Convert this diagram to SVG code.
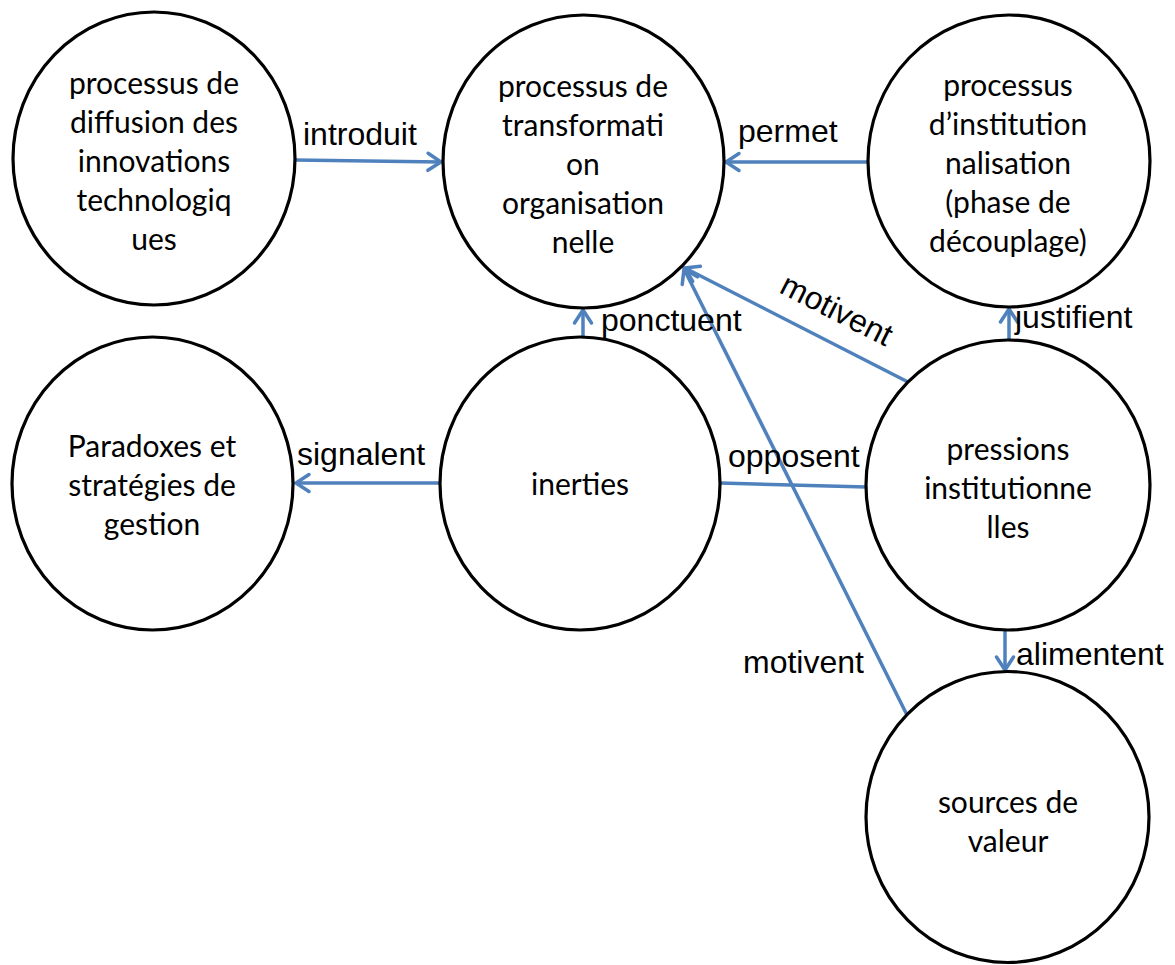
<svg xmlns="http://www.w3.org/2000/svg" width="1175" height="965" viewBox="0 0 1175 965">
<style>
.node ellipse{fill:#fff;stroke:#000;stroke-width:3.2}
.nt{font-family:Lato,"Open Sans","Liberation Sans",sans-serif;font-size:30px;fill:#000;text-anchor:middle}
.lbl{font-family:"Liberation Sans",Arial,sans-serif;font-size:32px;fill:#000}
.edge{stroke:#4F81BD;stroke-width:3.5;fill:none}
</style>
<defs>
<marker id="arr" markerUnits="userSpaceOnUse" markerWidth="24" markerHeight="24" viewBox="0 0 24 24" refX="18" refY="12" orient="auto">
<path d="M5,3.5 L18,12 L5,20.5" fill="none" stroke="#4F81BD" stroke-width="3.5" stroke-linecap="round" stroke-linejoin="miter"/>
</marker>
</defs>
<rect width="1175" height="965" fill="#fff"/>
<g id="connectors">
<line class="edge" x1="295" y1="160" x2="441" y2="162" marker-end="url(#arr)"/>
<line class="edge" x1="868" y1="162" x2="726" y2="162" marker-end="url(#arr)"/>
<line class="edge" x1="583" y1="337" x2="583" y2="310" marker-end="url(#arr)"/>
<line class="edge" x1="1009" y1="340" x2="1009" y2="309" marker-end="url(#arr)"/>
<line class="edge" x1="440" y1="483" x2="296" y2="483" marker-end="url(#arr)"/>
<line class="edge" x1="720" y1="483" x2="866" y2="487"/>
<line class="edge" x1="908" y1="382" x2="685" y2="268" marker-end="url(#arr)"/>
<line class="edge" x1="907" y1="715" x2="684" y2="269" marker-end="url(#arr)"/>
<line class="edge" x1="1005" y1="630" x2="1005" y2="670" marker-end="url(#arr)"/>
<text class="lbl" x="303" y="145">introduit</text>
<text class="lbl" x="738" y="142">permet</text>
<text class="lbl" x="601" y="331">ponctuent</text>
<text class="lbl" x="1015" y="328">justifient</text>
<text class="lbl" x="297" y="465">signalent</text>
<text class="lbl" x="728" y="467">opposent</text>
<text class="lbl" x="778" y="292" transform="rotate(27 778 292)">motivent</text>
<text class="lbl" x="743" y="673">motivent</text>
<text class="lbl" x="1016" y="665">alimentent</text>
</g>
<g id="n1" class="node">
<ellipse cx="154" cy="158.5" rx="141" ry="146.5"/>
<text class="nt" x="154" y="94">processus de</text>
<text class="nt" x="154" y="133">diffusion des</text>
<text class="nt" x="154" y="172">innovations</text>
<text class="nt" x="154" y="211">technologiq</text>
<text class="nt" x="154" y="250">ues</text>
</g>
<g id="n2" class="node">
<ellipse cx="583.5" cy="161.5" rx="140.5" ry="146.5"/>
<text class="nt" x="583" y="97">processus de</text>
<text class="nt" x="583" y="136">transformati</text>
<text class="nt" x="583" y="175">on</text>
<text class="nt" x="583" y="214">organisation</text>
<text class="nt" x="583" y="253">nelle</text>
</g>
<g id="n3" class="node">
<ellipse cx="1009" cy="161" rx="141" ry="146"/>
<text class="nt" x="1008" y="96">processus</text>
<text class="nt" x="1008" y="135">d’institution</text>
<text class="nt" x="1008" y="174">nalisation</text>
<text class="nt" x="1008" y="213">(phase de</text>
<text class="nt" x="1008" y="252">découplage)</text>
</g>
<g id="n4" class="node">
<ellipse cx="152.5" cy="483.5" rx="140.5" ry="146.5"/>
<text class="nt" x="152" y="457">Paradoxes et</text>
<text class="nt" x="152" y="496">stratégies de</text>
<text class="nt" x="152" y="535">gestion</text>
</g>
<g id="n5" class="node">
<ellipse cx="580" cy="483.5" rx="140" ry="146.5"/>
<text class="nt" x="580" y="495">inerties</text>
</g>
<g id="n6" class="node">
<ellipse cx="1008" cy="485" rx="142" ry="145"/>
<text class="nt" x="1008" y="460">pressions</text>
<text class="nt" x="1008" y="499">institutionne</text>
<text class="nt" x="1008" y="538">lles</text>
</g>
<g id="n7" class="node">
<ellipse cx="1007.5" cy="817" rx="141.5" ry="145.5"/>
<text class="nt" x="1008" y="813">sources de</text>
<text class="nt" x="1008" y="852">valeur</text>
</g>
</svg>
